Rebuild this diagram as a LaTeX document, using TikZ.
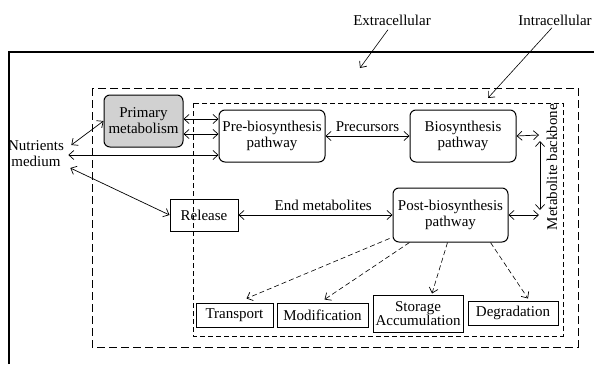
\documentclass[tikz,border=0pt]{standalone}
\usepackage{fontspec}
\setmainfont{Liberation Serif}
\usetikzlibrary{arrows.meta,calc}

\begin{document}
\begin{tikzpicture}[x=1pt,y=-1pt,
  font=\fontsize{15}{16}\selectfont,
  line width=0.8pt,
  tip/.tip={Straight Barb[length=5pt,width=9pt,line width=0.7pt]},
  dbl/.style={tip-tip, line width=0.7pt},
  sgl/.style={-tip, line width=0.6pt},
  dsh/.style={-tip, line width=0.6pt, dash pattern=on 5pt off 3pt},
  rbox/.style={draw, rounded corners=6pt, align=center, inner sep=0pt, line width=1pt},
  sbox/.style={draw, rectangle, align=center, inner sep=0pt, line width=1pt},
  txt/.style={align=center, inner sep=2pt}]
\useasboundingbox (0,0) rectangle (594,364);

% cell boundary (runs off the page to the right and bottom)
\draw[line width=1.1pt] (9,364) -- (9,52) -- (594,52);
% intracellular region and pathway region
\draw[line width=0.9pt, dash pattern=on 8pt off 4pt] (92,88) rectangle (578,347);
\draw[line width=0.7pt, dash pattern=on 5pt off 3pt] (193,103) rectangle (563,336);

% labels
\node[txt] (extra) at (392,20) {Extracellular};
\node[txt] (intra) at (555,20) {Intracellular};
\node[txt] (nut) at (36,154) {Nutrients\\medium};
\coordinate (extraEnd) at (360,68);
\coordinate (intraEnd) at (488,98);
\draw[sgl] ($(extra.south)+(-4,2)$) -- (extraEnd);
\draw[sgl] ($(intra.south)+(-3,0)$) -- (intraEnd);

% pathway nodes
\node[rbox, fill=black!18, minimum width=79pt, minimum height=52pt] (prim) at (143.5,121) {Primary\\metabolism};
\node[rbox, minimum width=106pt, minimum height=52pt] (pre) at (272,136) {Pre-biosynthesis\\pathway};
\node[rbox, minimum width=106pt, minimum height=52pt] (bio) at (463,136) {Biosynthesis\\pathway};
\node[rbox, minimum width=115pt, minimum height=54pt] (post) at (450.5,215) {Post-biosynthesis\\pathway};
\node[sbox, minimum width=68pt, minimum height=32pt] (rel) at (204,215) {Release};

\node[sbox, minimum width=77pt, minimum height=24pt] (trans) at (234.5,315) {Transport};
\node[sbox, minimum width=91pt, minimum height=24pt] (modif) at (322.5,315) {Modification};
\node[sbox, minimum width=90pt, minimum height=37pt, font=\fontsize{15}{14.5}\selectfont] (stor) at (418,313.5) {Storage\\Accumulation};
\node[sbox, minimum width=90pt, minimum height=24pt] (degr) at (513,313) {Degradation};

% exchanges with the medium
\draw[dbl] ($(nut.east)+(5,-9)$) -- (prim.west);
\draw[dbl] ($(nut.east)+(2,1)$) -- (pre.west |- 0,155);
\draw[dbl] ($(nut.east)+(4,14)$) -- (rel.west);

% flow between pathways
\draw[dbl] (prim.east |- 0,119) -- (pre.west |- 0,119);
\draw[dbl] (prim.east |- 0,134) -- (pre.west |- 0,134);
\draw[dbl] (pre.east) -- node[above=1pt] {Precursors} (bio.west);
\draw[dbl] (post.west) -- node[above=1pt, pos=0.45] {End metabolites} (rel.east);

% metabolite backbone link
\coordinate (bbTop) at (539,135);
\coordinate (bbBot) at (539,215);
\draw[dbl] (bio.east) -- (bbTop);
\draw[dbl] (post.east) -- (bbBot);
\draw[dbl] (540,141) -- (540,210);
\node[rotate=90, inner sep=0pt] (bbl) at (552,167) {Metabolite backbone};

% fates of end metabolites
\draw[dsh] ($(post.south west)+(-3,-4)$) -- ($(trans.north)+(12,-4)$);
\draw[dsh] ($(post.south west)+(17,0)$) -- ($(modif.north)+(2,-3)$);
\draw[dsh] ($(post.south)+(-3,0)$) -- ($(stor.north)+(14,-1)$);
\draw[dsh] ($(post.south east)+(-18,0)$) -- ($(degr.north)+(15,-2)$);
\end{tikzpicture}
\end{document}
